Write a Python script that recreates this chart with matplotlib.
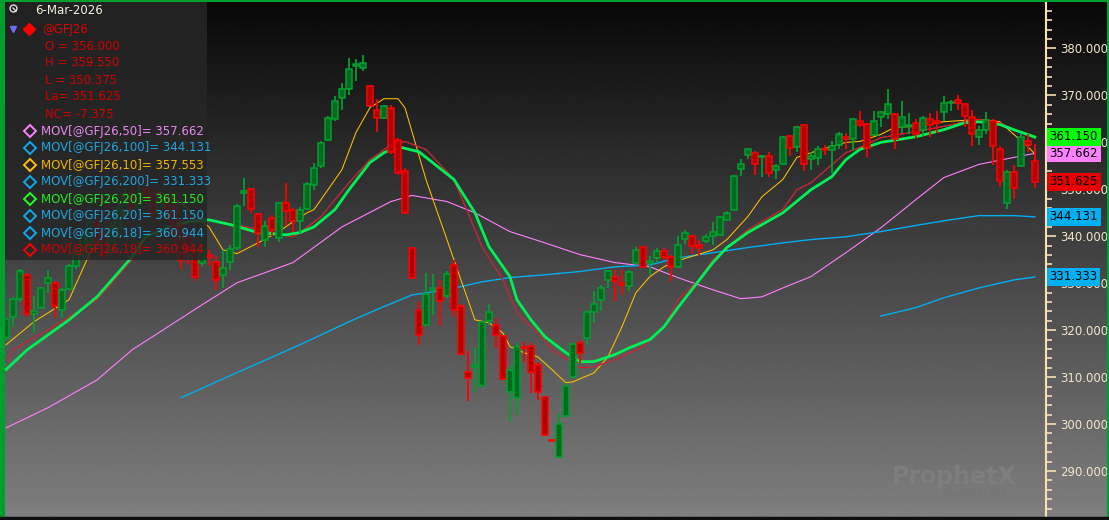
import numpy as np
import matplotlib
matplotlib.use("Agg")
from matplotlib import pyplot as plt
from matplotlib import transforms
from matplotlib.ticker import MultipleLocator, FormatStrFormatter

# daily OHLC of @GFJ26, oldest first
opens = [318.4, 322.9, 326.6, 331.8, 323.5, 324.8, 330.0, 330.0, 324.4, 328.8,
         333.6, 336.0, 338.0, 343.0, 340.0, 337.0, 342.0, 345.0, 349.0, 346.0,
         350.0, 349.0, 345.0, 348.0, 346.0, 342.0, 340.0, 337.1, 334.3, 336.0,
         334.6, 331.8, 334.6, 337.5, 349.2, 350.1, 344.8, 339.3, 343.9, 339.6,
         347.0, 345.7, 343.2, 345.8, 351.0, 354.9, 360.6, 364.9, 369.5, 371.4,
         376.2, 375.9, 372.1, 366.8, 365.2, 367.4, 360.6, 354.0, 337.5, 324.4,
         321.0, 328.6, 329.0, 327.2, 333.9, 325.2, 311.1, 312.1, 308.2, 321.9,
         321.2, 318.8, 306.8, 305.5, 316.5, 316.7, 312.6, 305.7, 296.6, 293.0,
         301.8, 310.0, 317.2, 318.3, 323.8, 326.5, 330.6, 331.4, 330.1, 329.5,
         334.3, 337.8, 334.4, 335.4, 336.8, 335.6, 333.5, 339.4, 340.1, 338.2,
         338.9, 340.1, 340.3, 343.5, 345.5, 354.3, 357.4, 357.8, 356.8, 357.0,
         354.1, 355.3, 361.3, 359.0, 363.6, 356.5, 356.7, 358.6, 358.3, 359.4,
         361.0, 360.7, 364.6, 364.0, 361.5, 365.4, 366.1, 366.1, 363.2, 363.5,
         364.2, 362.6, 365.0, 364.4, 366.4, 368.3, 369.0, 368.2, 365.4, 361.2,
         362.6, 364.5, 358.6, 347.0, 353.6, 354.9, 360.2, 356.0]
highs = [319.0, 327.1, 333.0, 332.2, 327.2, 329.2, 332.9, 330.4, 329.0, 334.0,
         338.2, 341.0, 344.0, 344.0, 341.0, 343.0, 347.0, 350.0, 350.0, 351.0,
         352.0, 350.0, 349.0, 349.0, 347.0, 343.0, 341.0, 337.3, 337.8, 337.1,
         335.7, 337.1, 338.2, 346.8, 352.4, 350.3, 345.0, 343.2, 344.6, 347.4,
         351.4, 346.0, 346.3, 351.6, 355.6, 360.3, 365.6, 369.8, 372.7, 378.0,
         377.7, 378.7, 372.3, 369.3, 368.0, 368.0, 361.0, 354.5, 337.7, 326.1,
         332.2, 332.0, 330.7, 332.5, 335.0, 325.6, 315.5, 316.5, 321.9, 325.6,
         322.6, 319.0, 312.3, 317.2, 317.5, 317.2, 313.3, 305.9, 296.7, 302.3,
         308.7, 317.2, 318.0, 324.4, 328.3, 329.7, 332.9, 332.9, 332.9, 332.9,
         337.8, 338.0, 335.7, 337.5, 337.5, 336.1, 340.1, 341.4, 340.3, 339.3,
         340.5, 343.0, 344.3, 345.3, 353.1, 356.5, 358.8, 358.1, 357.4, 357.9,
         355.3, 361.3, 361.5, 363.5, 363.8, 357.9, 359.2, 359.5, 360.4, 362.2,
         362.0, 365.2, 366.6, 364.2, 366.6, 366.6, 371.3, 366.3, 368.9, 366.3,
         365.0, 365.6, 366.3, 366.6, 369.8, 369.1, 370.0, 368.4, 367.0, 363.4,
         366.5, 364.9, 359.2, 354.2, 355.1, 361.7, 361.8, 359.55]
lows = [318.0, 320.7, 326.0, 322.9, 319.4, 324.6, 327.9, 322.6, 322.6, 328.6,
        333.0, 335.0, 337.0, 338.0, 335.0, 336.0, 341.0, 344.0, 345.0, 345.0,
        347.0, 344.0, 344.0, 343.0, 339.0, 333.0, 334.0, 330.4, 333.6, 333.6,
        328.6, 329.0, 332.9, 337.1, 346.4, 345.0, 337.7, 337.8, 340.0, 338.7,
        342.1, 341.0, 340.8, 345.7, 349.9, 354.6, 360.2, 364.5, 366.8, 370.0,
        373.0, 375.2, 367.5, 362.2, 364.9, 357.5, 353.0, 344.8, 330.9, 316.9,
        320.8, 323.3, 320.8, 326.9, 322.9, 314.8, 305.0, 306.9, 308.0, 321.2,
        316.2, 309.4, 300.5, 302.0, 313.3, 306.7, 305.2, 297.5, 296.3, 292.7,
        301.6, 309.6, 313.0, 316.9, 321.5, 324.0, 329.0, 326.3, 327.5, 328.3,
        333.9, 333.2, 331.8, 334.6, 334.9, 330.4, 333.2, 338.4, 336.3, 335.7,
        338.6, 338.2, 340.1, 343.3, 345.3, 352.8, 356.5, 353.1, 352.6, 352.6,
        352.1, 355.1, 357.0, 357.9, 353.8, 354.2, 355.1, 357.4, 353.5, 358.6,
        358.6, 358.1, 363.3, 356.9, 361.3, 363.2, 364.9, 358.5, 361.9, 361.7,
        361.0, 361.3, 361.2, 362.0, 364.5, 366.6, 366.8, 363.2, 359.2, 359.5,
        361.7, 355.1, 350.6, 345.8, 348.0, 354.7, 357.9, 350.375]
closes = [322.4, 326.7, 332.5, 323.4, 324.0, 329.0, 331.2, 325.1, 328.5, 333.6,
          336.4, 340.0, 343.0, 339.0, 336.0, 342.0, 346.0, 349.0, 346.0, 349.0,
          348.0, 345.0, 348.0, 344.0, 341.0, 335.0, 337.0, 331.4, 337.1, 335.6,
          330.7, 333.2, 337.3, 346.4, 349.6, 345.8, 340.6, 342.1, 341.4, 347.1,
          345.3, 343.2, 345.7, 351.2, 354.6, 359.9, 365.2, 368.8, 371.4, 375.7,
          376.6, 377.0, 367.7, 365.2, 367.7, 358.0, 353.5, 345.0, 331.1, 319.0,
          327.8, 329.0, 326.3, 332.0, 324.4, 315.0, 309.8, 312.5, 321.7, 323.9,
          319.0, 309.6, 311.6, 316.5, 316.1, 311.2, 306.9, 297.7, 296.4, 300.0,
          308.1, 317.0, 315.2, 323.8, 325.6, 329.0, 332.7, 330.4, 329.7, 332.3,
          337.0, 333.5, 334.8, 336.9, 335.6, 333.5, 338.2, 340.6, 338.0, 337.5,
          339.8, 340.9, 344.1, 345.0, 352.8, 355.4, 358.6, 355.3, 357.1, 353.5,
          354.9, 361.1, 358.8, 363.2, 355.4, 357.0, 358.6, 358.4, 359.3, 361.7,
          360.8, 364.9, 363.6, 358.8, 364.6, 366.4, 368.1, 360.7, 365.4, 363.7,
          361.7, 365.1, 363.8, 364.2, 368.3, 368.6, 368.3, 365.6, 361.7, 362.7,
          364.7, 359.2, 351.7, 353.6, 350.3, 361.2, 359.5, 351.625]

ma10_idx = [0, 4, 9, 12, 16, 20, 22, 25, 27, 29, 31, 33, 36, 39, 41, 43, 44, 45, 48, 50,
            52, 54, 56, 57, 60, 61, 63, 65, 67, 69, 71, 72, 74, 76, 78, 80, 81, 84, 86,
            88, 90, 92, 94, 96, 101, 103, 106, 108, 111, 113, 115, 120, 122, 125, 127,
            130, 134, 139, 142, 144, 146, 147]
ma10_val = [316.9, 321.8, 326.5, 336.5, 343.5, 348.4, 349.3, 347.2, 344.2, 342.0, 337.1,
            336.3, 338.6, 341.0, 343.1, 345.0, 345.7, 347.8, 354.2, 362.1, 367.4, 369.3,
            369.3, 367.4, 352.1, 347.8, 339.3, 330.7, 322.2, 321.6, 319.4, 316.5, 315.2,
            314.3, 311.6, 308.8, 309.0, 310.9, 314.3, 320.7, 328.0, 331.4, 333.5, 334.8,
            337.1, 339.3, 344.2, 348.4, 352.1, 356.8, 357.8, 360.0, 360.2, 361.7, 363.2,
            363.4, 364.4, 364.9, 364.4, 361.7, 359.1, 357.553]
ma18_idx = [0, 1, 6, 10, 13, 18, 22, 26, 29, 35, 41, 42, 45, 49, 52, 55, 57, 60, 64, 66,
            68, 71, 73, 76, 78, 81, 82, 84, 87, 91, 94, 96, 99, 101, 106, 111, 113, 115,
            120, 122, 125, 130, 134, 137, 139, 142, 144, 147]
ma18_val = [313.3, 315.8, 320.1, 323.7, 326.5, 335.0, 341.0, 344.0, 343.5, 341.8, 339.9,
            340.8, 344.2, 351.4, 356.3, 359.5, 360.2, 358.5, 352.1, 345.0, 337.8, 330.7,
            323.7, 319.4, 315.8, 313.0, 312.0, 312.2, 313.7, 316.5, 320.7, 326.5, 330.7,
            335.0, 341.4, 345.7, 349.9, 351.4, 357.8, 358.9, 361.0, 362.3, 363.4, 364.4,
            364.9, 364.2, 362.7, 360.944]
ma20_idx = [0, 3, 9, 13, 18, 20, 23, 26, 29, 32, 36, 40, 42, 44, 47, 49, 52, 54, 56, 59,
            64, 67, 69, 72, 73, 75, 77, 80, 82, 84, 87, 89, 92, 94, 96, 101, 103, 106,
            111, 115, 118, 120, 122, 125, 130, 134, 137, 139, 142, 144, 147]
ma20_val = [311.6, 315.8, 322.2, 327.1, 335.6, 339.9, 341.8, 343.1, 343.5, 342.5, 340.8,
            340.3, 340.8, 342.0, 345.7, 349.9, 355.7, 357.8, 359.1, 358.0, 352.1, 345.0,
            337.8, 331.4, 326.5, 322.2, 318.6, 315.2, 313.3, 313.3, 314.8, 316.2, 318.0,
            320.7, 324.8, 334.4, 337.6, 340.8, 345.0, 349.9, 352.7, 356.3, 358.5, 360.0,
            361.2, 362.7, 364.2, 364.4, 363.8, 362.7, 361.150]
ma50_idx = [0, 6, 13, 18, 28, 33, 41, 48, 55, 58, 63, 67, 72, 77, 82, 87, 92, 96, 101,
            105, 108, 111, 115, 120, 125, 130, 134, 139, 144, 147]
ma50_val = [299.2, 303.5, 309.4, 315.8, 325.4, 330.1, 334.4, 342.0, 347.4, 348.7, 347.4,
            345.0, 341.0, 338.6, 336.1, 334.4, 333.5, 331.2, 328.6, 326.7, 327.1, 329.0,
            331.4, 336.5, 341.8, 347.8, 352.5, 355.3, 356.8, 357.662]
ma100_idx = [25, 32, 42, 49, 53, 58, 63, 68, 72, 77, 82, 87, 92, 96, 101, 106, 111, 115,
             120, 125, 130, 134, 139, 144, 147]
ma100_val = [305.6, 310.3, 316.9, 321.8, 324.4, 327.5, 328.6, 330.3, 331.2, 331.8, 332.5,
             333.5, 333.9, 335.4, 336.5, 337.6, 338.6, 339.3, 339.9, 341.0, 342.3, 343.3,
             344.4, 344.4, 344.131]
ma200_idx = [125, 130, 134, 139, 144, 147]
ma200_val = [323.0, 324.8, 326.9, 329.0, 330.7, 331.333]

W, H = 1109, 520
fig = plt.figure(figsize=(W / 100, H / 100), dpi=100)

# gradient background, black at the top to grey at the bottom
bg = fig.add_axes([0, 0, 1, 1], zorder=0)
grad = np.linspace(0.03, 0.50, 256).reshape(-1, 1)
bg.imshow(grad, cmap="gray", vmin=0, vmax=1, aspect="auto", extent=[0, 1, 0, 1], origin="upper")
bg.axis("off")

ax = fig.add_axes([5 / W, 3 / H, 1041 / W, 515 / H], zorder=2)
ax.patch.set_alpha(0)
ax.set_xlim(-0.15, 148.6)
ax.set_ylim(280.21, 389.9)

# moving averages
ax.plot(ma50_idx, ma50_val, color="#ff80ff", lw=0.8, zorder=3)
ax.plot(ma100_idx, ma100_val, color="#00aef0", lw=1.0, zorder=3)
ax.plot(ma200_idx, ma200_val, color="#00aef0", lw=1.0, zorder=3)
ax.plot(ma10_idx, ma10_val, color="#ffc000", lw=0.75, zorder=3)
ax.plot(ma18_idx, ma18_val, color="#00aef0", lw=0.75, zorder=3)
ax.plot(ma18_idx, ma18_val, color="#ff0000", lw=0.75, zorder=3)
ax.plot(ma20_idx, ma20_val, color="#00ff20", lw=2.0, zorder=3)
ax.plot(ma20_idx, ma20_val, color="#00c8ff", lw=0.9, dashes=(1.2, 1.2), zorder=3)

# candles
idx = np.arange(len(closes))
for i in idx:
    o, h, l, c = opens[i], highs[i], lows[i], closes[i]
    if c >= o:
        edge, face = "#00a030", "#006a1e"
    else:
        edge, face = "#ff0000", "#b00000"
    ax.vlines(i, l, h, color=edge, lw=1.3, zorder=4)
    ax.bar(i, max(abs(c - o), 0.25), bottom=min(o, c), width=0.8,
           color=face, edgecolor=edge, linewidth=1.1, zorder=5)

# right price axis
for s in ["left", "top", "bottom"]:
    ax.spines[s].set_visible(False)
ax.spines["right"].set_color("#f7e0b0")
ax.spines["right"].set_linewidth(1.5)
ax.set_xticks([])
ax.yaxis.tick_right()
ax.yaxis.set_major_locator(MultipleLocator(10))
ax.yaxis.set_minor_locator(MultipleLocator(2))
ax.yaxis.set_major_formatter(FormatStrFormatter("%.3f"))
ax.tick_params(axis="y", which="major", length=7, width=1.2, colors="#f7e0b0",
               labelcolor="#f0e6cc", labelsize=8.5, pad=3)
ax.tick_params(axis="y", which="minor", length=4, width=1.2, colors="#f7e0b0")

# last-value tags
tr = transforms.blended_transform_factory(ax.transAxes, ax.transData)
tags = [(ma200_val[-1], "#00b0f0"), (ma100_val[-1], "#00b0f0"),
        (closes[-1], "#e60000"), (ma50_val[-1], "#ff80ff"), (ma20_val[-1], "#00ff00")]
for v, col in tags:
    ax.text(1.0035, v, "%.3f" % v, transform=tr, ha="left", va="center", fontsize=8.5,
            color="black", zorder=10, clip_on=False,
            bbox=dict(boxstyle="square,pad=0.22", facecolor=col, edgecolor="none"))

# overlay in pixel coordinates: legend box, frame, watermark
ov = fig.add_axes([0, 0, 1, 1], zorder=5)
ov.set_xlim(0, W)
ov.set_ylim(H, 0)
ov.axis("off")
ov.patch.set_alpha(0)
ov.add_patch(plt.Rectangle((5, 0), 202, 260, facecolor="#262626", alpha=0.85, edgecolor="none"))
ov.text(35, 11, "6-Mar-2026", color="#f2f0dc", fontsize=8.5, va="center")
ov.plot([12.5], [7.5], marker="o", ms=5, mfc="none", mec="#e0e0e0", mew=1)
ov.plot([13, 16], [8, 11], color="#e0e0e0", lw=1)
ov.plot([13], [29], marker="v", ms=4, color="#7070ff")
ov.plot([29], [29], marker="D", ms=6, color="#ff0000")
ov.text(42, 29, "@GFJ26", color="#e00000", fontsize=8.5, va="center")
rows = ["O = %.3f" % 356.0, "H = %.3f" % highs[-1], "L = %.3f" % lows[-1],
        "La= %.3f" % closes[-1], "NC= %.3f" % (closes[-1] - 359.0)]
for k, t in enumerate(rows):
    ov.text(45, 46 + 17 * k, t, color="#d00000", fontsize=8.5, va="center")

legend_rows = [("MOV[@GFJ26,50]= %.3f" % ma50_val[-1], "#ff80ff", "#e888f0"),
               ("MOV[@GFJ26,100]= %.3f" % ma100_val[-1], "#10aaf0", "#1ea6e0"),
               ("MOV[@GFJ26,10]= %.3f" % ma10_val[-1], "#ffc000", "#f0b400"),
               ("MOV[@GFJ26,200]= %.3f" % ma200_val[-1], "#10aaf0", "#1ea6e0"),
               ("MOV[@GFJ26,20]= %.3f" % ma20_val[-1], "#20ff20", "#20ee20"),
               ("MOV[@GFJ26,20]= %.3f" % ma20_val[-1], "#10aaf0", "#1ea6e0"),
               ("MOV[@GFJ26,18]= %.3f" % ma18_val[-1], "#10aaf0", "#1ea6e0"),
               ("MOV[@GFJ26,18]= %.3f" % ma18_val[-1], "#ff0000", "#d00000")]
for k, (t, mc, tc) in enumerate(legend_rows):
    y = 131 + 17 * k
    ov.plot([30], [y], marker="D", ms=6, mfc="none", mec=mc, mew=1.4)
    ov.text(41, y, t, color=tc, fontsize=8.5, va="center")

ov.text(954, 477, "ProphetX", color="#7e7e7e", fontsize=17, fontweight="bold",
        ha="center", va="center")
ov.text(975, 494, "powered by DTN", color="#747474", fontsize=5.5, ha="center", va="center")

# frame
ov.add_patch(plt.Rectangle((0, 0), 5, H, facecolor="#00a030", edgecolor="none"))
ov.plot([0, W], [0.5, 0.5], color="#00a030", lw=1.5)
ov.plot([W - 1.5, W - 1.5], [0, H], color="#00a030", lw=1.5)
ov.plot([0, W], [H - 2, H - 2], color="#101010", lw=2.5)

fig.savefig("out.png", dpi=100)
